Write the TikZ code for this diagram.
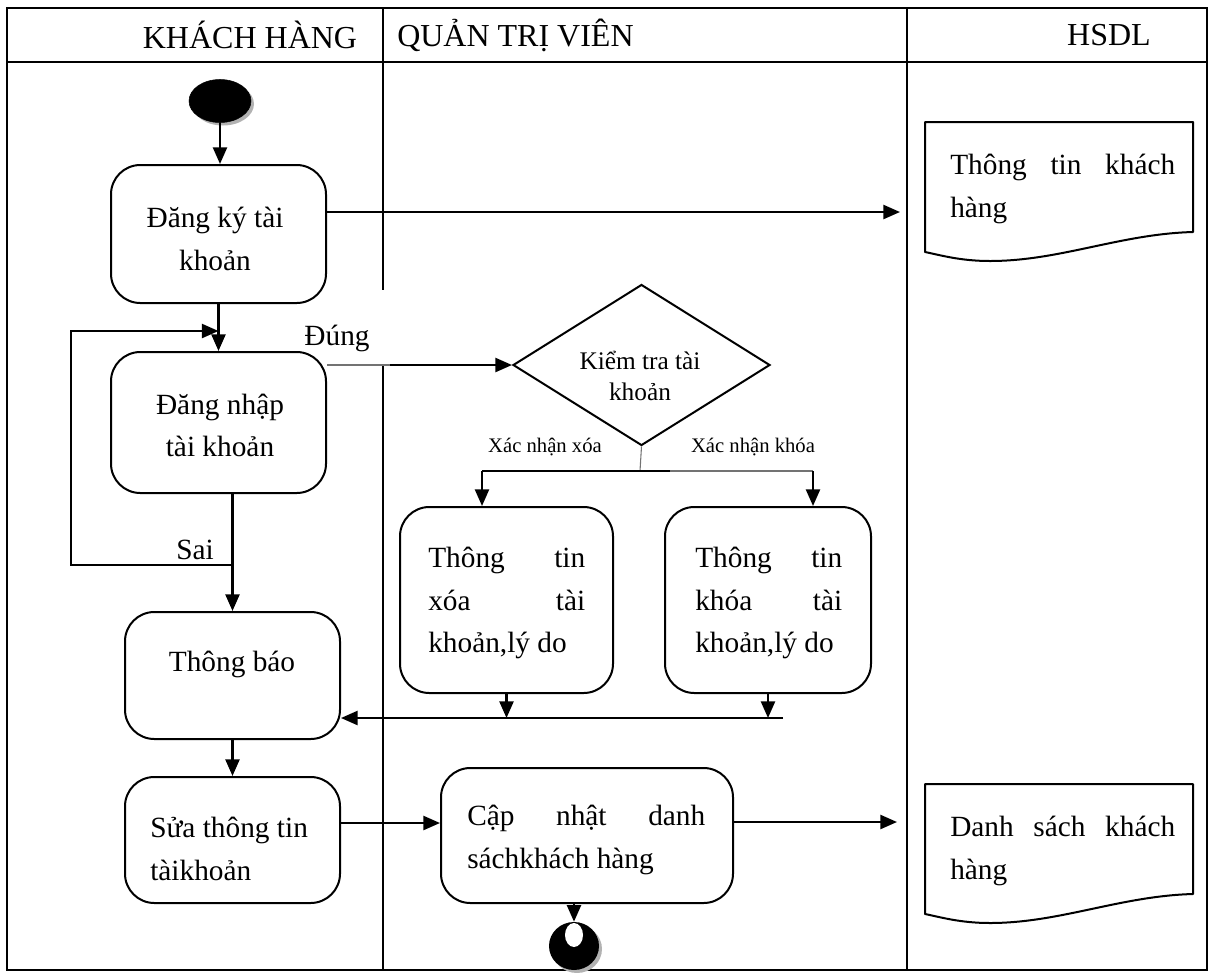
\documentclass[tikz,border=0pt]{standalone}
\usepackage{fontspec}
\setmainfont{Liberation Serif}
\usetikzlibrary{arrows.meta,shapes.geometric}

\begin{document}
\begin{tikzpicture}[x=0.75pt,y=-0.75pt,
  frame/.style={line width=1.8pt},
  line/.style={line width=1.8pt},
  thinline/.style={line width=0.8pt,black!55},
  arr/.style={line width=1.8pt,-{Triangle[length=12.5pt,width=10.5pt]}},
  act/.style 2 args={draw,line width=1.5pt,rounded corners=22pt,inner sep=0pt,
    minimum width=#1*0.75pt,minimum height=#2*0.75pt},
  txt/.style={inner sep=0pt,font=\fontsize{22}{32}\selectfont},
  head/.style={inner sep=0pt,font=\fontsize{24}{28}\selectfont},
  small/.style={inner sep=0pt,font=\fontsize{15.5}{19}\selectfont},
  docpic/.pic={
    \draw[line width=1.5pt,line join=round] (0,0) -- (268,0) -- (268,110)
      .. controls (195,112) and (135,139) .. (65,139)
      .. controls (35,139) and (15,133) .. (0,130) -- cycle;
  }]
\useasboundingbox (0,0) rectangle (1211,972);

% swimlane frame
\draw[frame] (7,8) rectangle (1207,970);
\draw[frame] (7,62) -- (1207,62);
\draw[frame] (383,8) -- (383,290);
\draw[frame] (383,365) -- (383,970);
\draw[frame] (907,8) -- (907,970);
\node[head] (h1) at (250,35) {KHÁCH HÀNG};
\node[head,anchor=west] (h2) at (397,35) {QUẢN TRỊ VIÊN};
\node[head] (h3) at (1109,35) {HSDL};

% start node
\node[ellipse,fill=black!30,minimum width=62*0.75pt,minimum height=43*0.75pt,inner sep=0pt] (startsh) at (223,104) {};
\node[ellipse,fill=black,draw=black,minimum width=62*0.75pt,minimum height=43*0.75pt,inner sep=0pt] (start) at (220,101) {};

% activities
\node[act={215}{138}] (reg) at (218.5,234) {};
\node[txt,align=center] (treg) at (215,239) {Đăng ký tài\\khoản};

\node[act={215}{141}] (login) at (218.5,422.5) {};
\node[txt,align=center] (tlogin) at (220,425.5) {Đăng nhập\\tài khoản};

\node[act={215}{127}] (notify) at (232.5,675.5) {};
\node[txt] (tnotify) at (232,664) {Thông báo};

\node[act={215}{126}] (edit) at (232.5,840) {};
\node[txt,align=left,anchor=west] (tedit) at (150,849) {Sửa thông tin\\tàikhoản};

\node[draw,diamond,line width=1.5pt,inner sep=0pt,minimum width=257*0.75pt,minimum height=161*0.75pt] (chk) at (641.5,365) {};
\node[inner sep=0pt,align=center,font=\fontsize{19}{23.5}\selectfont] (tchk) at (640,376) {Kiểm tra tài\\khoản};

\node[act={213}{186}] (del) at (506.5,600) {};
\node[txt,align=left,anchor=west] (tdel) at (428,603) {\makebox[117.75pt][s]{Thông tin}\\\makebox[117.75pt][s]{xóa tài}\\khoản,lý do};

\node[act={206}{186}] (lock) at (768,600) {};
\node[txt,align=left,anchor=west] (tlock) at (695,603) {\makebox[110.25pt][s]{Thông tin}\\\makebox[110.25pt][s]{khóa tài}\\khoản,lý do};

\node[act={292}{135}] (upd) at (587,835.5) {};
\node[txt,align=left,anchor=west] (tupd) at (467,840) {\makebox[178.5pt][s]{Cập nhật danh}\\sáchkhách hàng};

% data stores
\pic (doc1) at (925,122) {docpic};
\node[txt,align=left,anchor=west] (tdoc1) at (950,189) {\makebox[168.75pt][s]{Thông tin khách}\\hàng};
\pic (doc2) at (925,784) {docpic};
\node[txt,align=left,anchor=west] (tdoc2) at (950,851) {\makebox[168.75pt][s]{Danh sách khách}\\hàng};

% end node
\node[ellipse,fill=black!30,minimum width=50*0.75pt,minimum height=48*0.75pt,inner sep=0pt] (stopsh) at (577,949) {};
\node[ellipse,fill=black,minimum width=50*0.75pt,minimum height=48*0.75pt,inner sep=0pt] (stop) at (574,946) {};
\node[ellipse,fill=white,minimum width=18*0.75pt,minimum height=24*0.75pt,inner sep=0pt] (stophole) at (574,935) {};

% labels
\node[txt] (lok) at (337,338) {Đúng};
\node[txt] (lno) at (195,550) {Sai};
\node[small] (lxoa) at (545,447) {Xác nhận xóa};
\node[small] (lkhoa) at (753,447) {Xác nhận khóa};

% junction points
\coordinate (a1) at (900,212);
\coordinate (sj) at (232.5,565);
\coordinate (lc) at (71,565);
\coordinate (lj) at (218.5,331);
\coordinate (dj) at (390,365);
\coordinate (sp) at (640,471);
\coordinate (dl) at (482,471);
\coordinate (dm) at (670,471);
\coordinate (dr) at (813,471);
\coordinate (mj) at (783,718);
\coordinate (ej) at (340,823);
\coordinate (d2a) at (897,822);

% flows
\draw[arr] (start.south) -- (start.south |- reg.north);
\draw[arr] (reg.east |- a1) -- (a1);
\draw[arr] (reg.south) -- (login.north);
\draw[arr] (login.south -| notify.north) -- (notify.north);
\draw[arr] (sj) -- (lc) |- (lj);
\draw[thinline] (login.east |- dj) -- (dj);
\draw[arr] (dj) -- (chk.west);
\draw[thinline] (chk.south) -- (sp);
\draw[line] (dl) -- (dm);
\draw[thinline] (dm) -- (dr);
\draw[arr] (dl) -- (dl |- del.north);
\draw[arr] (dr) -- (dr |- lock.north);
\draw[arr] (del.south) -- (del.south |- mj);
\draw[arr] (lock.south) -- (lock.south |- mj);
\draw[arr] (mj) -- (mj -| notify.east);
\draw[arr] (notify.south) -- (edit.north);
\draw[arr] (ej) -- (ej -| upd.west);
\draw[arr] (upd.east |- d2a) -- (d2a);
\draw[arr] (stop.north |- upd.south) -- (stop.north);
\end{tikzpicture}
\end{document}
